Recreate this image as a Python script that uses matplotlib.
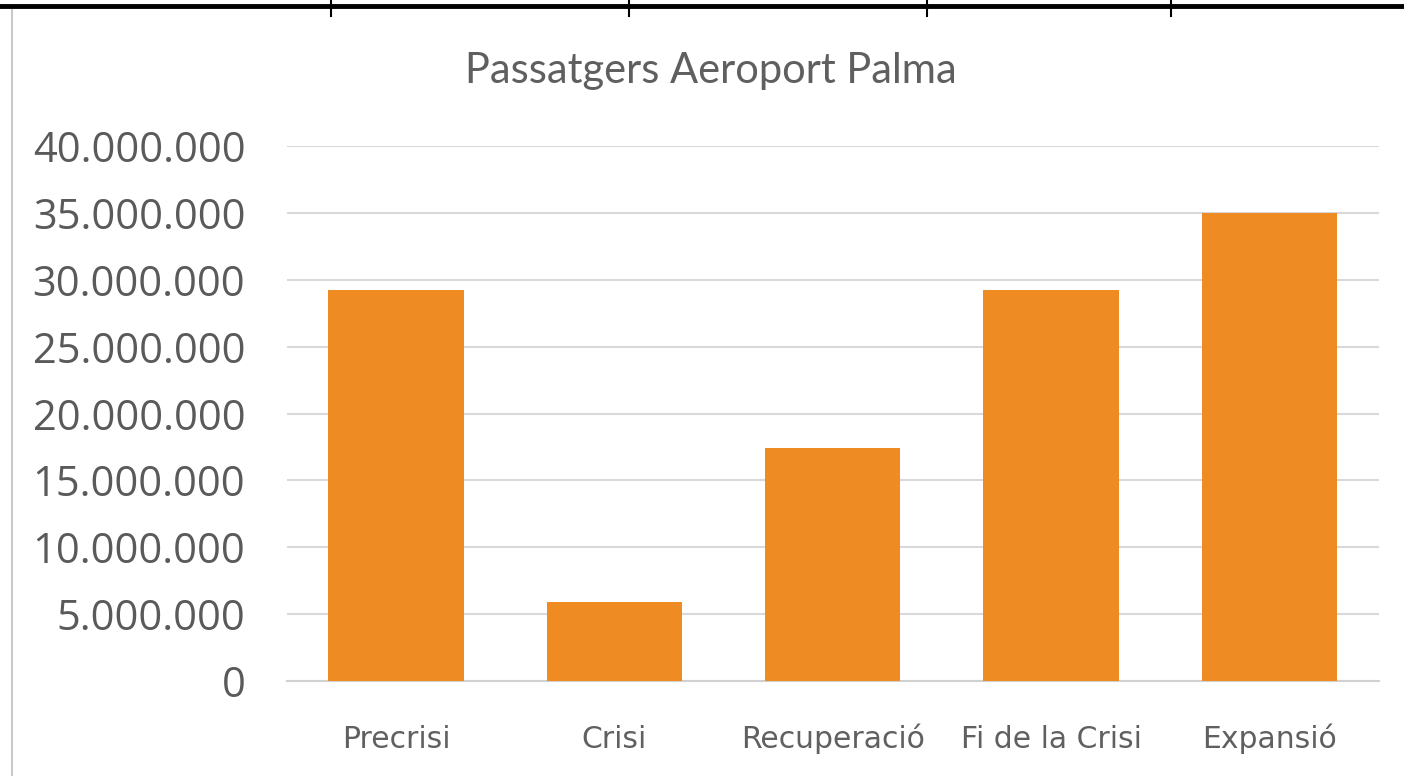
import matplotlib.pyplot as plt
from matplotlib.lines import Line2D
from matplotlib.ticker import FuncFormatter

# dades
categories = ['Precrisi', 'Crisi', 'Recuperació', 'Fi de la Crisi', 'Expansió']
passatgers = [29200000, 5900000, 17400000, 29200000, 35000000]
y_ticks = [0, 5000000, 10000000, 15000000, 20000000, 25000000, 30000000, 35000000, 40000000]


def format_milers(v, pos):
    return f'{int(v):,}'.replace(',', '.')


fig = plt.figure(figsize=(14.04, 7.76), dpi=100)
ax = fig.add_axes([0.2044, 0.1224, 0.7775, 0.6894])

x = range(len(categories))
ax.bar(x, passatgers, width=0.62, color='#ee8b22', zorder=3)

ax.set_xlim(-0.5, len(categories) - 0.5)
ax.set_ylim(0, 40000000)
ax.set_yticks(y_ticks)
ax.yaxis.set_major_formatter(FuncFormatter(format_milers))
ax.set_xticks(list(x))
ax.set_xticklabels(categories, family='DejaVu Sans', fontsize=21.5, color='#606060')

ax.grid(axis='y', color='#d9d9d9', linewidth=1.5, zorder=0)
for s in ['top', 'right', 'left']:
    ax.spines[s].set_visible(False)
ax.spines['bottom'].set_color('#d0d0d0')
ax.spines['bottom'].set_linewidth(1.5)
ax.tick_params(axis='both', length=0)
ax.tick_params(axis='y', pad=30, labelsize=30, labelcolor='#5a5a5a')
ax.tick_params(axis='x', pad=48)
for lbl in ax.get_yticklabels():
    lbl.set_family('Open Sans')
# totes les etiquetes sobre la mateixa línia base
for lbl in ax.get_xticklabels():
    lbl.set_va('baseline')

fig.text(0.506, 0.908, 'Passatgers Aeroport Palma', ha='center', va='center',
         fontsize=30, color='#5f5f5f', family='Lato')

# vores de la taula
fig.add_artist(Line2D([0, 1], [1 - 6 / 776, 1 - 6 / 776], color='black', linewidth=3.5))
for xv in [331, 629, 927, 1171]:
    fig.add_artist(Line2D([xv / 1404, xv / 1404], [1, 1 - 16 / 776], color='black', linewidth=1.5))
fig.add_artist(Line2D([12 / 1404, 12 / 1404], [0, 1 - 10 / 776], color='#c8c8c8', linewidth=1.5))

plt.savefig('out.png', dpi=100)
